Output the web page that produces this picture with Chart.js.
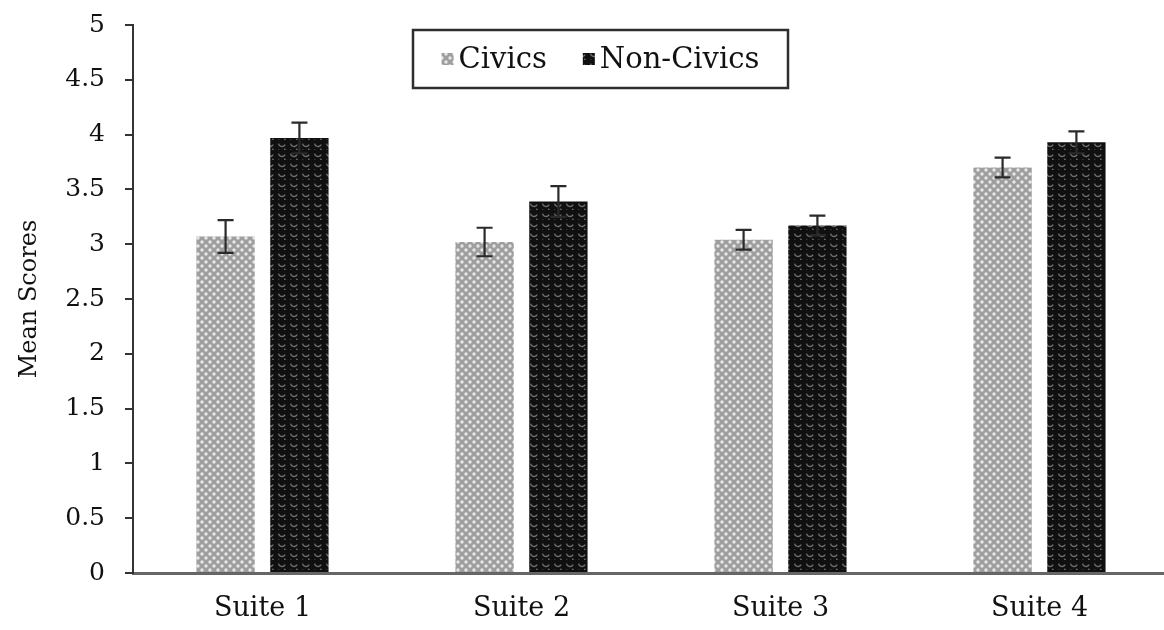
<!DOCTYPE html>
<html>
<head>
<meta charset="utf-8">
<script src="https://cdn.jsdelivr.net/npm/chart.js@4"></script>
<style>
  html, body { margin: 0; padding: 0; background: #fff; overflow: hidden; }
  #wrap { width: 1170px; height: 630px; position: relative; }
</style>
</head>
<body>
<div id="wrap"><canvas id="scoreChart"></canvas></div>
<script>
const suites = ["Suite 1", "Suite 2", "Suite 3", "Suite 4"];
const seriesNames = ["Civics", "Non-Civics"];
const civicsMeans = [3.07, 3.02, 3.04, 3.70];
const civicsErrors = [0.15, 0.13, 0.09, 0.09];
const nonCivicsMeans = [3.97, 3.39, 3.17, 3.93];
const nonCivicsErrors = [0.14, 0.14, 0.09, 0.10];

const FONT = "'DejaVu Serif', serif";
const TEXT = "#111";

// small tiled fills to mimic the hatched bars
function civicsPattern() {
  const c = document.createElement("canvas");
  c.width = 8; c.height = 8;
  const g = c.getContext("2d");
  g.fillStyle = "#9e9e9e";
  g.fillRect(0, 0, 8, 8);
  g.fillStyle = "#e6e6e6";
  [[2, 2], [6, 6]].forEach(([x, y]) => {
    g.beginPath(); g.arc(x, y, 1.7, 0, Math.PI * 2); g.fill();
  });
  return g.createPattern(c, "repeat");
}

function nonCivicsPattern() {
  const c = document.createElement("canvas");
  c.width = 12; c.height = 10;
  const g = c.getContext("2d");
  g.fillStyle = "#101010";
  g.fillRect(0, 0, 12, 10);
  g.strokeStyle = "#6e6e6e";
  g.lineWidth = 1.4;
  g.beginPath(); g.arc(6, 3, 3.5, 0.15 * Math.PI, 0.95 * Math.PI); g.stroke();
  g.beginPath(); g.arc(0, 8, 3.5, 0.15 * Math.PI, 0.95 * Math.PI); g.stroke();
  g.beginPath(); g.arc(12, 8, 3.5, 0.15 * Math.PI, 0.95 * Math.PI); g.stroke();
  return g.createPattern(c, "repeat");
}

const errorBarPlugin = {
  id: "errorBars",
  afterDatasetsDraw(chart) {
    const ctx = chart.ctx;
    const y = chart.scales.y;
    chart.data.datasets.forEach((ds, i) => {
      const meta = chart.getDatasetMeta(i);
      meta.data.forEach((bar, j) => {
        const top = y.getPixelForValue(ds.data[j] + ds.errors[j]);
        const bottom = y.getPixelForValue(ds.data[j] - ds.errors[j]);
        ctx.save();
        ctx.strokeStyle = "#2a2a2a";
        ctx.lineWidth = 2.2;
        ctx.beginPath();
        ctx.moveTo(bar.x, top); ctx.lineTo(bar.x, bottom);
        ctx.moveTo(bar.x - 8, top); ctx.lineTo(bar.x + 8, top);
        ctx.moveTo(bar.x - 8, bottom); ctx.lineTo(bar.x + 8, bottom);
        ctx.stroke();
        ctx.restore();
      });
    });
  }
};

// boxed legend sitting inside the plot, like the original
const boxedLegend = {
  id: "boxedLegend",
  afterDraw(chart) {
    const ctx = chart.ctx;
    const box = { x: 413, y: 30, w: 375, h: 58 };
    ctx.save();
    ctx.fillStyle = "#fff";
    ctx.fillRect(box.x, box.y, box.w, box.h);
    ctx.strokeStyle = "#2e2e2e";
    ctx.lineWidth = 2.5;
    ctx.strokeRect(box.x, box.y, box.w, box.h);

    ctx.font = "29px " + FONT;
    ctx.textBaseline = "middle";
    const sw = 12, gap = 5, itemGap = 36;
    const items = chart.data.datasets.map(ds => ({
      label: ds.label, fill: ds.backgroundColor, w: sw + gap + ctx.measureText(ds.label).width
    }));
    const total = items.reduce((s, it) => s + it.w, 0) + itemGap * (items.length - 1);
    let x = box.x + (box.w - total) / 2;
    const cy = box.y + box.h / 2;
    items.forEach(it => {
      ctx.fillStyle = it.fill;
      ctx.fillRect(x, cy - sw / 2, sw, sw);
      ctx.fillStyle = TEXT;
      ctx.fillText(it.label, x + sw + gap, cy + 1);
      x += it.w + itemGap;
    });
    ctx.restore();
  }
};

const ctx = document.getElementById("scoreChart").getContext("2d");

const scoreChart = new Chart(ctx, {
  type: "bar",
  data: {
    labels: suites,
    datasets: [
      {
        label: seriesNames[0],
        data: civicsMeans,
        errors: civicsErrors,
        backgroundColor: civicsPattern(),
        categoryPercentage: 0.57,
        barPercentage: 0.79,
      },
      {
        label: seriesNames[1],
        data: nonCivicsMeans,
        errors: nonCivicsErrors,
        backgroundColor: nonCivicsPattern(),
        categoryPercentage: 0.57,
        barPercentage: 0.79,
      },
    ],
  },
  options: {
    responsive: true,
    maintainAspectRatio: false,
    animation: false,
    layout: { padding: { top: 25, right: 1, bottom: 0, left: 0 } },
    plugins: {
      legend: { display: false },
      tooltip: { enabled: false },
    },
    scales: {
      x: {
        grid: { display: true, drawOnChartArea: false, drawTicks: false, color: "rgba(0,0,0,0)" },
        border: { display: true, color: "#666", width: 3 },
        ticks: { font: { family: FONT, size: 27 }, color: TEXT, padding: 20 },
        afterFit: (scale) => { scale.height = 57; },
      },
      y: {
        min: 0,
        max: 5,
        ticks: {
          stepSize: 0.5,
          padding: 20,
          font: { family: FONT, size: 25 },
          color: TEXT,
          callback: (v) => String(v),
        },
        grid: { drawOnChartArea: false, drawTicks: true, tickLength: 8, color: "#333", lineWidth: 2 },
        border: { display: true, color: "#333", width: 2 },
        title: {
          display: true,
          text: "Mean Scores",
          font: { family: FONT, size: 24 },
          color: TEXT,
          padding: { top: 15, bottom: 0 },
        },
        afterFit: (scale) => {
          scale.width = 133;
          scale.paddingTop = 0;
          scale.paddingBottom = 0;
        },
      },
    },
  },
  plugins: [errorBarPlugin, boxedLegend],
});
</script>
</body>
</html>
